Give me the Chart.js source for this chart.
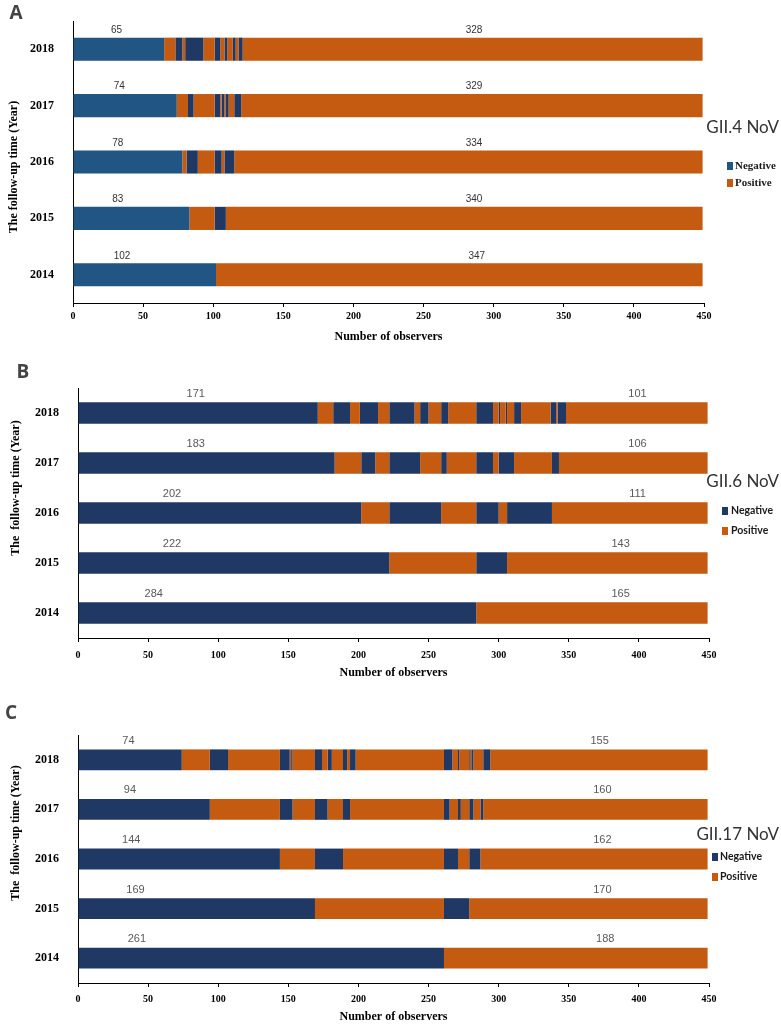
<!DOCTYPE html>
<html><head><meta charset="utf-8">
<script src="https://cdn.jsdelivr.net/npm/chart.js@4.4.0/dist/chart.umd.min.js"></script>
<style>
html,body{margin:0;padding:0;background:#fff;}
#wrap{position:relative;width:781px;height:1024px;overflow:hidden;}
.panel{position:absolute;left:0;width:781px;}
canvas{display:block;}
</style></head><body>
<div id="wrap">
<div class="panel" style="top:0;height:350px"><canvas id="cA" width="781" height="350"></canvas></div>
<div class="panel" style="top:350px;height:340px"><canvas id="cB" width="781" height="340"></canvas></div>
<div class="panel" style="top:690px;height:334px"><canvas id="cC" width="781" height="334"></canvas></div>
</div>
<script>
// ---------- data ----------
const years = ['2018','2017','2016','2015','2014'];
const xTickValues = [0,50,100,150,200,250,300,350,400,450];
const seriesNames = ['Negative','Positive'];

// Each row: alternating run lengths, Negative first, then Positive, Negative, ...
// Panel A – GII.4 NoV
const gii4_2018 = [65,8,5,2,13,8,4,3,2,4,2,2,3,328];
const gii4_2017 = [74,8,4,15,4,1,2,1,2,4,5,329];
const gii4_2016 = [78,3,8,12,5,2,7,334];
const gii4_2015 = [83,18,8,340];
const gii4_2014 = [102,347];

// Panel B – GII.6 NoV
const gii6_2018 = [171,11,12,7,13,8,18,4,6,9,5,20,12,4,1,4,1,5,5,21,4,1,6,101];
const gii6_2017 = [183,19,10,10,22,15,4,21,12,4,11,27,5,106];
const gii6_2016 = [202,20,37,25,16,6,32,111];
const gii6_2015 = [222,62,22,143];
const gii6_2014 = [284,165];

// Panel C – GII.17 NoV
const gii17_2018 = [74,20,13,37,7,1,1,16,5,4,3,8,3,2,4,63,6,4,1,7,1,1,1,7,5,155];
const gii17_2017 = [94,50,9,16,9,11,5,67,4,6,2,6,3,5,2,160];
const gii17_2016 = [144,25,20,72,10,8,8,162];
const gii17_2015 = [169,92,18,170];
const gii17_2014 = [261,188];

// ---------- styling ----------
const NAVY = '#203864', STEEL = '#215584', ORANGE = '#c55a11';
const SERIF = "'Liberation Serif','Times New Roman',serif";
const SANS = "Lato,'Open Sans','Liberation Sans',sans-serif";

const deco = {
  id: 'panelDeco',
  afterDatasetsDraw(chart, args, o) {
    const ctx = chart.ctx, xs = chart.scales.x, ys = chart.scales.y;
    ctx.save();
    ctx.textAlign = 'center'; ctx.textBaseline = 'middle';
    ctx.font = o.valueFont; ctx.fillStyle = o.valueColor;
    o.rows.forEach((r, i) => {
      const yc = ys.getPixelForValue(i) - o.labelRise;
      ctx.fillText(String(r[0]), xs.getPixelForValue(o.leftAt[i]), yc);
      ctx.fillText(String(r[r.length - 1]), xs.getPixelForValue(o.rightAt[i]), yc);
    });
    // panel letter
    ctx.font = "bold 19px 'Open Sans','Liberation Sans',sans-serif";
    ctx.fillStyle = '#444';
    ctx.fillText(o.letter, o.letterX, o.letterY);
    // y title
    ctx.save();
    ctx.translate(o.yTitleX, o.yTitleY);
    ctx.rotate(-Math.PI / 2);
    ctx.font = 'bold 12px ' + SERIF; ctx.fillStyle = '#000';
    ctx.fillText(o.yTitle, 0, 0);
    ctx.restore();
    // legend
    ctx.textAlign = 'right';
    ctx.font = '17px ' + SANS; ctx.fillStyle = '#333';
    ctx.fillText(o.legendTitle, 779, o.legTitleY);
    ctx.textAlign = 'left';
    ctx.font = o.legendFont;
    seriesNames.forEach((n, k) => {
      const y = o.legItemY[k];
      ctx.fillStyle = k === 0 ? o.negColor : ORANGE;
      ctx.fillRect(o.legSqX, y - 4, 6, 8);
      ctx.fillStyle = '#1a1a1a';
      ctx.fillText(n, o.legTextX, y);
    });
    ctx.restore();
  }
};

function makePanel(id, rows, p) {
  const maxLen = Math.max(...rows.map(r => r.length));
  const datasets = [];
  for (let k = 0; k < maxLen; k++) {
    const neg = k % 2 === 0;
    const col = neg ? (k === 0 ? p.firstNeg : NAVY) : ORANGE;
    datasets.push({
      label: neg ? seriesNames[0] : seriesNames[1],
      data: rows.map(r => (k < r.length ? r[k] : 0)),
      backgroundColor: col,
      borderWidth: 0,
      barPercentage: p.barPct,
      categoryPercentage: 1
    });
  }
  new Chart(document.getElementById(id), {
    type: 'bar',
    data: { labels: years, datasets },
    options: {
      indexAxis: 'y',
      responsive: false,
      animation: false,
      devicePixelRatio: 1,
      layout: { padding: { left: 0, right: p.padR, top: p.padT, bottom: 0 } },
      plugins: {
        legend: { display: false },
        tooltip: { enabled: false },
        panelDeco: {
          rows, leftAt: p.leftAt, rightAt: p.rightAt, labelRise: 19,
          valueFont: p.valueFont, valueColor: p.valueColor,
          letter: p.letter, letterX: p.letterX, letterY: p.letterY,
          yTitle: p.yTitle, yTitleX: p.yTitleX, yTitleY: p.yTitleY,
          legendTitle: p.legendTitle, legTitleY: p.legTitleY,
          legendFont: p.legendFont, legSqX: p.legSqX, legTextX: p.legTextX, legItemY: p.legItemY,
          negColor: p.firstNeg
        }
      },
      scales: {
        x: {
          stacked: true, min: 0, max: 450,
          afterFit: s => { s.height = p.xH; },
          afterBuildTicks: s => { s.ticks = xTickValues.map(v => ({ value: v })); },
          grid: { display: true, drawOnChartArea: false, drawTicks: true, tickLength: 4, color: '#000' },
          border: { display: true, color: '#000', width: 1 },
          ticks: { padding: p.xTickPad, color: '#000', font: { family: SERIF, size: 10, weight: 'bold' }, maxRotation: 0 },
          title: { display: true, text: 'Number of observers', color: '#000',
                   font: { family: SERIF, size: 12, weight: 'bold' }, padding: { top: 0, bottom: p.xTitlePad } }
        },
        y: {
          stacked: true,
          afterFit: s => { s.width = p.yW; },
          grid: { display: false },
          border: { display: true, color: '#000', width: 1 },
          ticks: { padding: 11, color: '#000', font: { family: SERIF, size: 12, weight: 'bold' } }
        }
      }
    },
    plugins: [deco]
  });
}

makePanel('cA', [gii4_2018, gii4_2017, gii4_2016, gii4_2015, gii4_2014], {
  firstNeg: STEEL, barPct: 0.41, padR: 77, padT: 21, yW: 73, xH: 47, xTickPad: 3, xTitlePad: 6,
  leftAt: [31, 33, 32, 32, 35], rightAt: [286, 286, 286, 286, 288],
  valueFont: "10px 'Liberation Sans',sans-serif", valueColor: '#333',
  letter: 'A', letterX: 16, letterY: 14,
  yTitle: 'The follow-up time (Year)', yTitleX: 14, yTitleY: 167,
  legendTitle: 'GII.4 NoV', legTitleY: 128,
  legendFont: 'bold 11px ' + SERIF, legSqX: 727, legTextX: 735, legItemY: [166, 183]
});

makePanel('cB', [gii6_2018, gii6_2017, gii6_2016, gii6_2015, gii6_2014], {
  firstNeg: NAVY, barPct: 0.43, padR: 72, padT: 38, yW: 78, xH: 52, xTickPad: 7, xTitlePad: 10,
  leftAt: [84, 84, 67, 67, 54], rightAt: [399, 399, 399, 387, 387],
  valueFont: "11px 'Liberation Sans',sans-serif", valueColor: '#595959',
  letter: 'B', letterX: 23, letterY: 23,
  yTitle: 'The  follow-up time (Year)', yTitleX: 16, yTitleY: 138,
  legendTitle: 'GII.6 NoV', legTitleY: 132,
  legendFont: 'bold 10.5px ' + SANS, legSqX: 722, legTextX: 731, legItemY: [161, 181]
});

makePanel('cC', [gii17_2018, gii17_2017, gii17_2016, gii17_2015, gii17_2014], {
  firstNeg: NAVY, barPct: 0.42, padR: 72, padT: 45, yW: 78, xH: 41, xTickPad: 6, xTitlePad: 0,
  leftAt: [36, 37, 38, 41, 42], rightAt: [372, 374, 374, 374, 376],
  valueFont: "11px 'Liberation Sans',sans-serif", valueColor: '#595959',
  letter: 'C', letterX: 11, letterY: 24,
  yTitle: 'The  follow-up time (Year)', yTitleX: 16, yTitleY: 143,
  legendTitle: 'GII.17 NoV', legTitleY: 145,
  legendFont: 'bold 10.5px ' + SANS, legSqX: 712, legTextX: 720, legItemY: [167, 187]
});
</script>
</body></html>
